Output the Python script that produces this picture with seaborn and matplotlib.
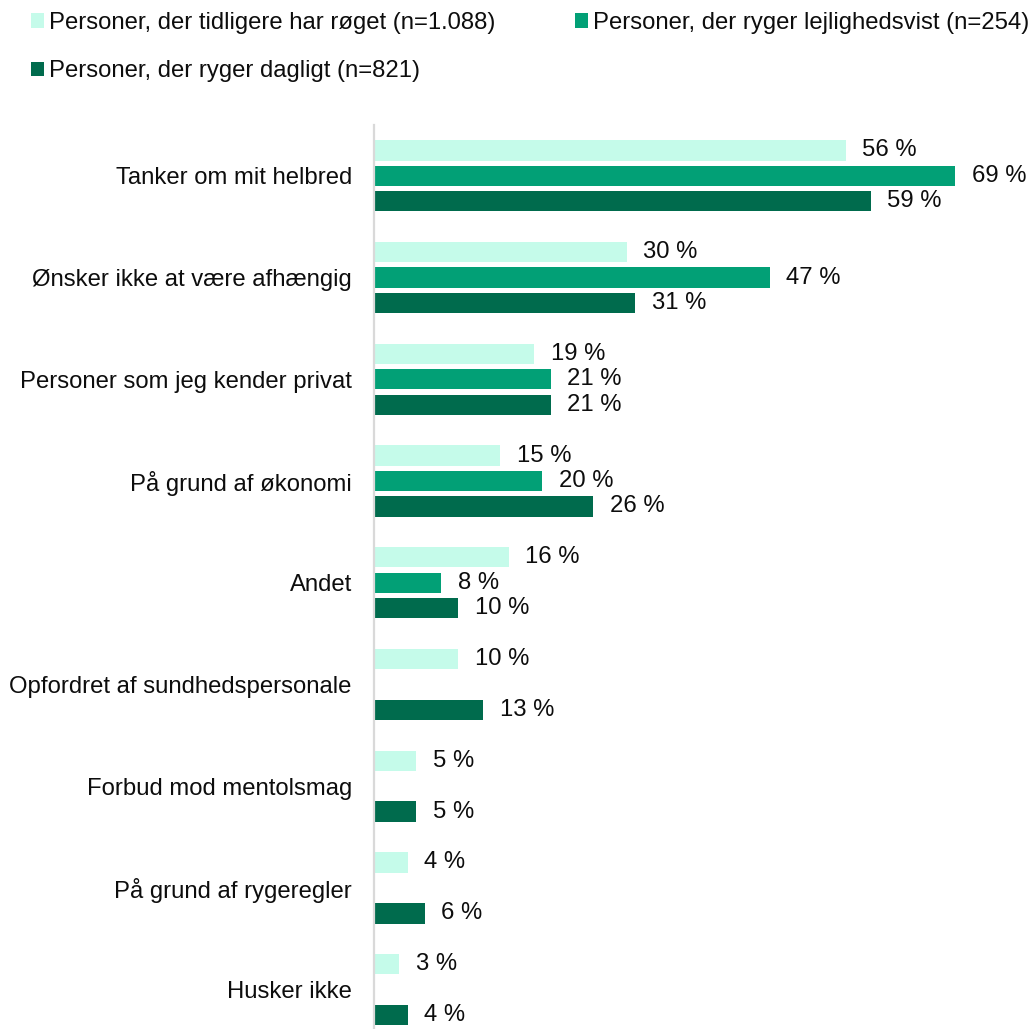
import numpy as np
import pandas as pd
import matplotlib
matplotlib.use("Agg")
import matplotlib.pyplot as plt
from matplotlib.patches import Patch
import seaborn as sns

categories = [
    "Tanker om mit helbred",
    "Ønsker ikke at være afhængig",
    "Personer som jeg kender privat",
    "På grund af økonomi",
    "Andet",
    "Opfordret af sundhedspersonale",
    "Forbud mod mentolsmag",
    "På grund af rygeregler",
    "Husker ikke",
]
series_names = [
    "Personer, der tidligere har røget (n=1.088)",
    "Personer, der ryger lejlighedsvist (n=254)",
    "Personer, der ryger dagligt (n=821)",
]
former = [56, 30, 19, 15, 16, 10, 5, 4, 3]
occasional = [69, 47, 21, 20, 8, np.nan, np.nan, np.nan, np.nan]
daily = [59, 31, 21, 26, 10, 13, 5, 6, 4]
colors = ["#C5FBEA", "#02A076", "#006B4D"]

rows = []
for name, vals in zip(series_names, [former, occasional, daily]):
    for cat, v in zip(categories, vals):
        rows.append({"Årsag": cat, "Gruppe": name, "Andel": v})
df = pd.DataFrame(rows).dropna()

sns.set_style("white")
plt.rcParams["font.family"] = ["Liberation Sans", "DejaVu Sans"]
FS = 17.2
TXT = "#0d0d0d"

W, H = 1030, 1029
fig = plt.figure(figsize=(W / 100, H / 100), dpi=100)
ax_left, ax_top, ax_bottom = 374, 125, 1029
ax = fig.add_axes([ax_left / W, (H - ax_bottom) / H, (W - ax_left) / W, (ax_bottom - ax_top) / H])

sns.barplot(
    data=df, y="Årsag", x="Andel", hue="Gruppe",
    order=categories, hue_order=series_names, palette=colors,
    orient="h", width=0.75, gap=0.2, dodge=True, legend=False,
    saturation=1, linewidth=0, ax=ax,
)

for cont in ax.containers:
    ax.bar_label(cont, labels=[f"{v:.0f} %" for v in cont.datavalues],
                 padding=12, fontsize=FS, color=TXT)

ax.set_xlim(0, (W - ax_left) / 8.42)
ax.set_ylim(8.387, -0.5)
ax.set_xlabel("")
ax.set_ylabel("")
ax.set_xticks([])
ax.tick_params(axis="y", length=0, pad=16, labelsize=FS, labelcolor=TXT)
for s in ["top", "right", "bottom"]:
    ax.spines[s].set_visible(False)
ax.spines["left"].set_color("#D9D9D9")
ax.spines["left"].set_linewidth(1.6)

handles = [Patch(facecolor=c, edgecolor="none") for c in colors]
order = [0, 2, 1]
fig.legend(
    [handles[i] for i in order], [series_names[i] for i in order],
    loc="upper left", bbox_to_anchor=(31 / W, 1 - 12 / H),
    ncol=2, frameon=False, fontsize=FS,
    handlelength=0.55, handleheight=0.55, handletextpad=0.2,
    columnspacing=3.35, labelspacing=1.1, borderpad=0, borderaxespad=0,
    labelcolor=TXT,
)

fig.savefig("out.png", dpi=100)
